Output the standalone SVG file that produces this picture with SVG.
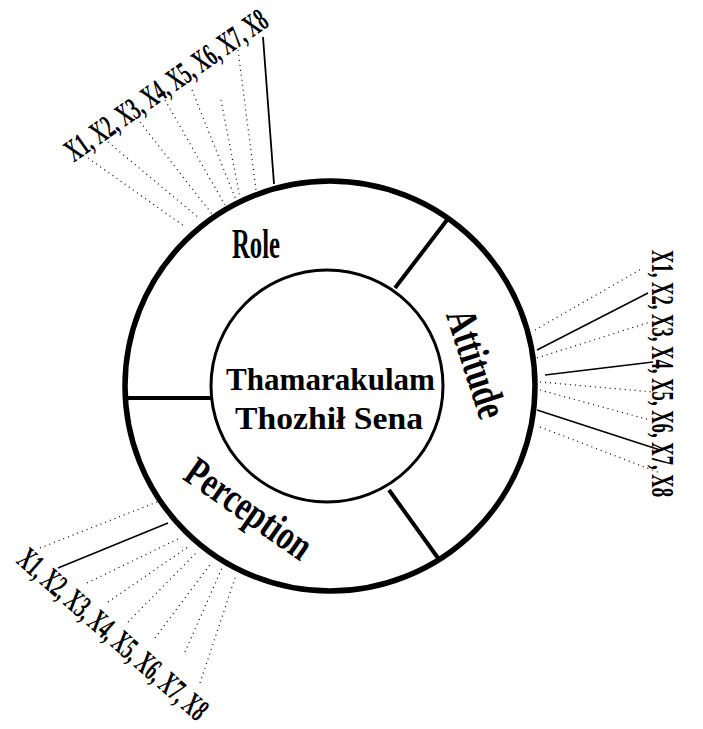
<svg xmlns="http://www.w3.org/2000/svg" width="703" height="729" viewBox="0 0 703 729">
<style>
.ring{fill:none;stroke:#000;stroke-width:5.5}
.inner{fill:#fff;stroke:#000;stroke-width:3}
.spoke{stroke:#000;stroke-width:4;fill:none}
.dot{stroke:#000;stroke-width:1.2;stroke-dasharray:1 4;fill:none}
.solid{stroke:#000;stroke-width:1.5;fill:none}
.t{font-family:"Liberation Serif","Times New Roman",serif;font-weight:bold;fill:#000}
</style>
<rect width="703" height="729" fill="#fff"/>
<g id="connectors">
  <!-- Role (top-left) -->
  <line class="dot" x1="88" y1="158" x2="184" y2="226"/>
  <line class="dot" x1="108" y1="142" x2="199" y2="218"/>
  <line class="dot" x1="140" y1="122" x2="212" y2="214"/>
  <line class="dot" x1="165" y1="100" x2="225" y2="205"/>
  <line class="dot" x1="192" y1="90" x2="236" y2="200"/>
  <line class="dot" x1="221" y1="100" x2="240" y2="198"/>
  <line class="dot" x1="238" y1="50" x2="256" y2="190"/>
  <line class="solid" x1="263" y1="37" x2="274" y2="184" style="stroke-width:1.8"/>
  <!-- Attitude (right) -->
  <line class="dot" x1="535" y1="330" x2="643" y2="268"/>
  <line class="solid" x1="537" y1="350" x2="648" y2="293"/>
  <line class="dot" x1="537" y1="358" x2="650" y2="322"/>
  <line class="solid" x1="545" y1="375" x2="653" y2="362"/>
  <line class="dot" x1="540" y1="382" x2="653" y2="392"/>
  <line class="dot" x1="540" y1="390" x2="650" y2="420"/>
  <line class="solid" x1="537" y1="410" x2="660" y2="450"/>
  <line class="dot" x1="540" y1="427" x2="660" y2="473"/>
  <!-- Perception (bottom-left) -->
  <line class="dot" x1="40" y1="548" x2="162" y2="500"/>
  <line class="solid" x1="58" y1="568" x2="168" y2="523"/>
  <line class="dot" x1="87" y1="583" x2="180" y2="538"/>
  <line class="dot" x1="108" y1="602" x2="188" y2="547"/>
  <line class="dot" x1="128" y1="622" x2="198" y2="551"/>
  <line class="dot" x1="155" y1="638" x2="212" y2="562"/>
  <line class="dot" x1="185" y1="652" x2="222" y2="568"/>
  <line class="dot" x1="200" y1="683" x2="236" y2="575"/>
</g>
<g id="ring">
  <circle class="ring" cx="330" cy="386" r="205"/>
  <line class="spoke" x1="126" y1="398" x2="211" y2="398"/>
  <line class="spoke" x1="447" y1="220" x2="395" y2="288"/>
  <line class="spoke" x1="389" y1="490" x2="438" y2="558"/>
</g>
<g id="center">
  <circle class="inner" cx="327" cy="386" r="116"/>
  <text class="t" x="330.5" y="390" font-size="31" text-anchor="middle" textLength="209" lengthAdjust="spacingAndGlyphs">Thamarakulam</text>
  <text class="t" x="329" y="429" font-size="31" text-anchor="middle" textLength="188" lengthAdjust="spacingAndGlyphs">Thozhił Sena</text>
</g>
<g id="role">
  <text class="t" x="256" y="258" font-size="42" text-anchor="middle" textLength="48" lengthAdjust="spacingAndGlyphs">Role</text>
</g>
<g id="attitude">
  <text class="t" transform="translate(463,368) rotate(72)" font-size="43" text-anchor="middle" textLength="112" lengthAdjust="spacingAndGlyphs">Attitude</text>
</g>
<g id="perception">
  <text class="t" transform="translate(241,520) rotate(35)" font-size="42" text-anchor="middle" textLength="145" lengthAdjust="spacingAndGlyphs">Perception</text>
</g>
<g id="role-items">
  <text class="t" transform="translate(172,94) rotate(-35)" font-size="32" text-anchor="middle" textLength="240" lengthAdjust="spacingAndGlyphs">X1, X2, X3, X4, X5, X6, X7, X8</text>
</g>
<g id="attitude-items">
  <text class="t" transform="translate(652,373.5) rotate(90)" font-size="32" text-anchor="middle" textLength="247" lengthAdjust="spacingAndGlyphs">X1, X2, X3, X4, X5, X6, X7, X8</text>
</g>
<g id="perception-items">
  <text class="t" transform="translate(106,642) rotate(41.4)" font-size="32" text-anchor="middle" textLength="242" lengthAdjust="spacingAndGlyphs">X1, X2, X3, X4, X5, X6, X7, X8</text>
</g>
</svg>
